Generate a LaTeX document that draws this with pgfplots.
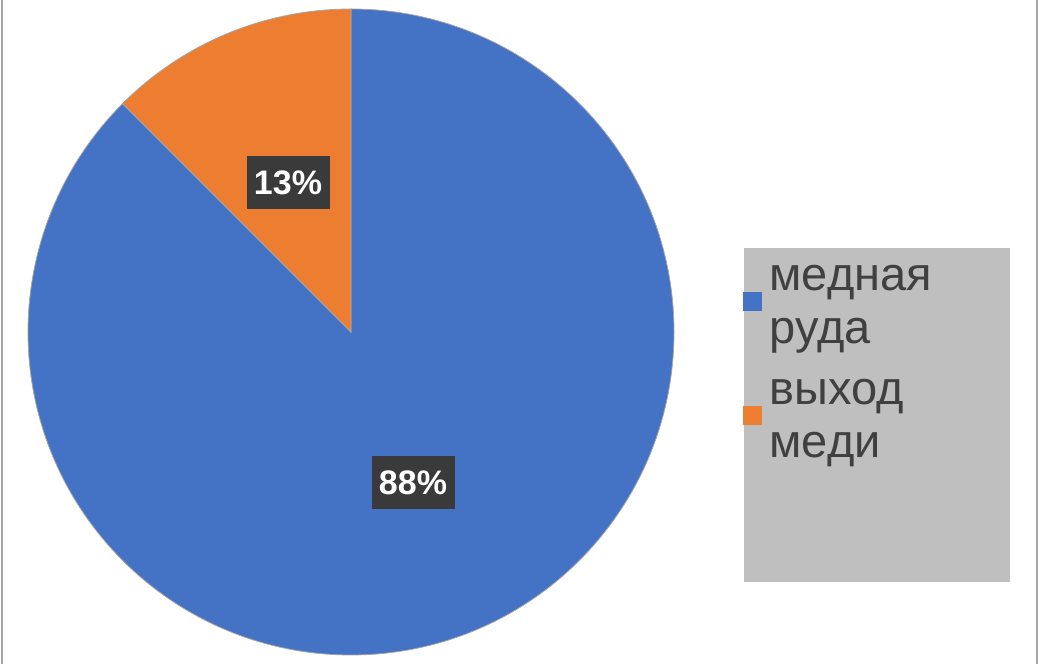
\documentclass[border=0pt]{standalone}
\usepackage{pgfplots}
\pgfplotsset{compat=1.18}
\usepackage{fontspec}
\setmainfont{Liberation Sans}

\definecolor{pieblue}{HTML}{4472C4}
\definecolor{pieorange}{HTML}{ED7D31}
\definecolor{leggray}{HTML}{BFBFBF}
\definecolor{labgray}{HTML}{3A3A3A}
\definecolor{txtgray}{HTML}{404040}

% shares, percent
\def\valA{87.5}  % медная руда
\def\valB{12.5}  % выход меди

\newcommand{\twoline}[2]{{\fontsize{47}{53}\selectfont\begin{tabular}{@{}l@{}}#1\\#2\end{tabular}}}

\begin{document}
\begin{tikzpicture}
\useasboundingbox (0,0) rectangle (1038pt,664pt);
\pgfmathsetmacro{\angA}{90-3.6*\valA}
\pgfmathsetmacro{\angB}{\angA-3.6*\valB}
\begin{axis}[
    width=1038pt, height=664pt, scale only axis,
    xmin=0, xmax=1038, ymin=0, ymax=664,
    hide axis,
    clip=false,
    legend style={at={(axis cs:743,411)}, anchor=north west,
      draw=none, fill=none, text=txtgray, inner sep=0pt,
      nodes={inner sep=0pt},
      cells={anchor=west},
      row sep=53pt, column sep=8pt},
    legend image code/.code={\fill[#1] (0pt,-27pt) rectangle (18pt,-9pt);},
]
% legend box
\fill[leggray] (axis cs:744,82) rectangle (axis cs:1010,416);
% slices
\filldraw[fill=pieblue, draw=gray!70, line width=0.8pt]
  (axis cs:351,332) -- ++(90:323pt) arc[start angle=90, end angle=\angA, radius=323pt] -- cycle;
\filldraw[fill=pieorange, draw=gray!70, line width=0.8pt]
  (axis cs:351,332) -- ++(\angA:323pt) arc[start angle=\angA, end angle=\angB, radius=323pt] -- cycle;
% data labels
\node[fill=labgray, text=white, font=\fontsize{34}{40}\selectfont\bfseries,
  minimum width=83pt, minimum height=53pt, inner sep=0pt] at (axis cs:288,481) {13\%};
\node[fill=labgray, text=white, font=\fontsize{34}{40}\selectfont\bfseries,
  minimum width=83pt, minimum height=53pt, inner sep=0pt] at (axis cs:413,181) {88\%};
\addlegendimage{pieblue}
\addlegendentry{\twoline{медная}{руда}}
\addlegendimage{pieorange}
\addlegendentry{\twoline{выход}{меди}}
\end{axis}
% frame sides
\draw[gray!70, line width=2pt] (1.5pt,0) -- (1.5pt,664pt);
\draw[gray!70, line width=2pt] (1036.5pt,0) -- (1036.5pt,664pt);
\end{tikzpicture}
\end{document}
